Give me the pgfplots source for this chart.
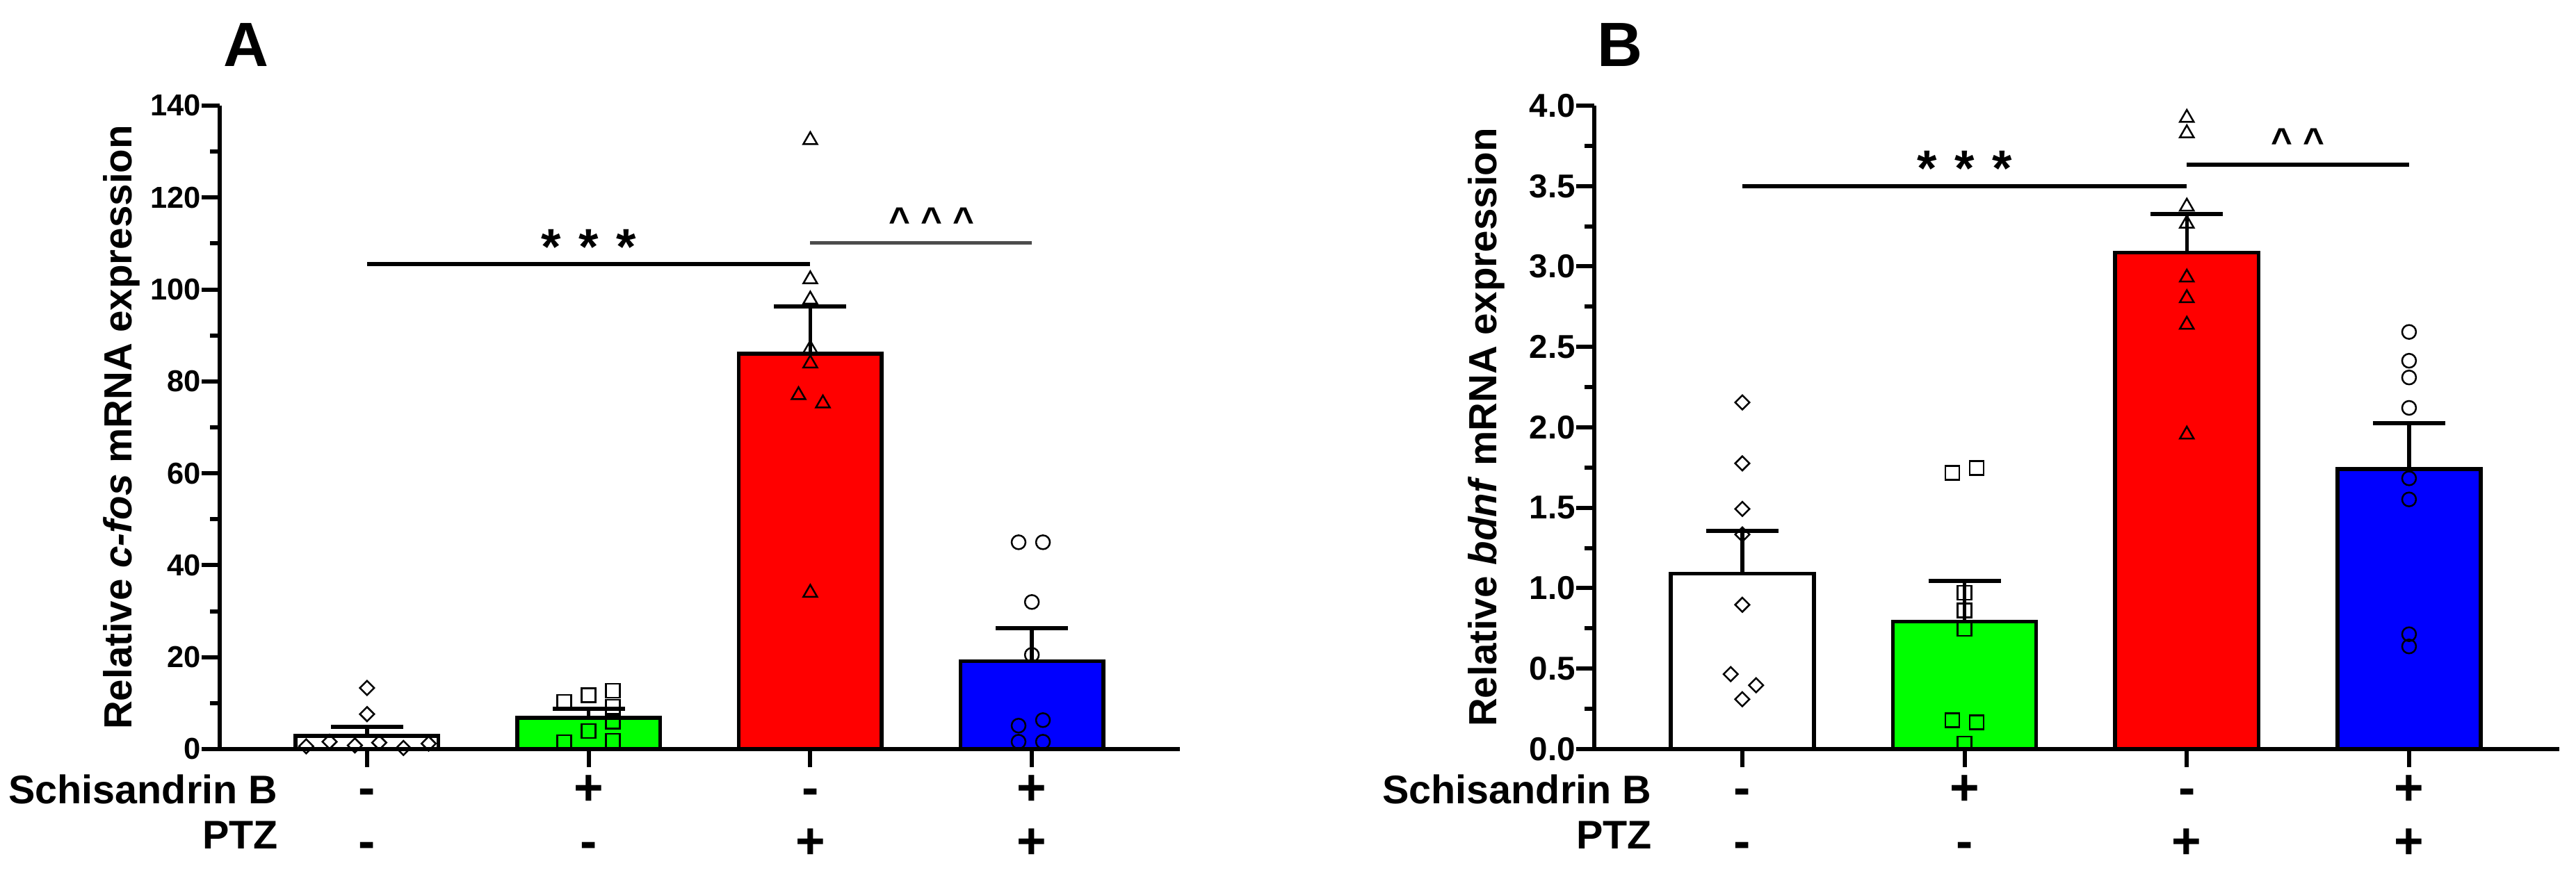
\documentclass[border=0pt]{standalone}
\usepackage{fontspec}
\setmainfont{Liberation Sans}
\usepackage{pgfplots}
\pgfplotsset{compat=1.18}

\definecolor{barwhite}{RGB}{255,255,255}
\definecolor{bargreen}{RGB}{0,255,0}
\definecolor{barred}{RGB}{255,0,0}
\definecolor{barblue}{RGB}{0,0,255}

\pgfplotsset{
  panel/.style={
    anchor=south west, scale only axis, height=185.2pt,
    ymin=0, clip=false,
    axis x line*=bottom, axis y line*=left,
    axis line style={line width=1.2pt, black},
    xtick={0,1,2,3}, xticklabels={},
    tick align=outside, major tick length=5.2pt, minor tick length=2.8pt,
    every tick/.style={black, line width=1.2pt},
    every minor tick/.style={black, line width=1.2pt},
    /pgf/number format/assume math mode=true,
    yticklabel style={inner sep=0pt, anchor=east},
    ylabel style={anchor=center, font=\fontsize{11.3}{13}\selectfont\bfseries},
  },
  meanbar/.style={ybar, bar width=0.645, bar shift=0pt, draw=black, line width=1.1pt,
    error bars/y dir=plus, error bars/y explicit,
    error bars/error bar style={line width=1.1pt, black},
    error bars/error mark options={rotate=90, mark size=10.4pt, line width=1.2pt, black}},
  pts/.style={only marks, mark options={draw=black, fill=none, line width=0.5pt}},
  dia/.style={pts, mark=square, mark size=1.45pt, mark options={rotate=45, draw=black, fill=none, line width=0.5pt}},
  sq/.style={pts, mark=square, mark size=2pt},
  tri/.style={pts, mark=triangle, mark size=2.3pt},
  circ/.style={pts, mark=o, mark size=2pt},
}
\tikzset{
  sig/.style={font=\fontsize{14.6}{16}\selectfont\bfseries, anchor=base, inner sep=0pt},
  hat/.style={font=\fontsize{10.6}{12}\selectfont\bfseries, anchor=base, inner sep=0pt},
  pm/.style={font=\fontsize{14.6}{16}\selectfont\bfseries, anchor=base, inner sep=0pt},
  rowlab/.style={anchor=base east, inner sep=0pt, font=\fontsize{11.5}{13}\selectfont\bfseries},
  panlab/.style={anchor=base west, inner sep=0pt, font=\fontsize{18}{20}\selectfont\bfseries},
}

\newcommand{\treatmentrows}{%
  \node[pm] at (axis cs:0,0) [yshift=-16.2pt] {-};
  \node[pm] at (axis cs:1,0) [yshift=-16.2pt] {+};
  \node[pm] at (axis cs:2,0) [yshift=-16.2pt] {-};
  \node[pm] at (axis cs:3,0) [yshift=-16.2pt] {+};
  \node[pm] at (axis cs:0,0) [yshift=-31.6pt] {-};
  \node[pm] at (axis cs:1,0) [yshift=-31.6pt] {-};
  \node[pm] at (axis cs:2,0) [yshift=-31.6pt] {+};
  \node[pm] at (axis cs:3,0) [yshift=-31.6pt] {+};
}

\begin{document}
\begin{tikzpicture}
\useasboundingbox (0,0) rectangle (741pt,250.4pt);

% ---------------- Panel A: c-fos ----------------
\begin{axis}[panel,
  at={(63.2pt,34.8pt)}, width=276.2pt,
  xmin=-0.665, xmax=3.668, ymax=140,
  ytick={0,20,...,140}, minor ytick={10,30,...,130},
  yticklabel style={font=\fontsize{8.7}{10}\selectfont\bfseries},
  ylabel={Relative \textit{c-fos} mRNA expression},
  ylabel style={at={(axis description cs:-0.102,0.5)}},
]
\addplot[meanbar, fill=barwhite] coordinates {(0,2.9) +- (0,1.9)};
\addplot[meanbar, fill=bargreen] coordinates {(1,6.8) +- (0,1.9)};
\addplot[meanbar, fill=barred]   coordinates {(2,86.0) +- (0,10.3)};
\addplot[meanbar, fill=barblue]  coordinates {(3,19.1) +- (0,7.2)};

\addplot[dia] coordinates {(0,13.3) (0,7.6) (-0.275,0.6) (-0.169,1.6) (-0.055,0.8) (0.055,1.4) (0.164,0.25) (0.278,1.2)};
\addplot[sq] coordinates {(0.89,10.3) (1,11.7) (1.11,12.7) (1.11,9.2) (1.11,6.0) (1,3.9) (0.89,1.5) (1.11,1.8)};
\addplot[tri] coordinates {(2,132.5) (2,102.2) (2,97.8) (2,87.1) (2,83.9) (1.947,77.0) (2.057,75.2) (2,34.0)};
\addplot[circ] coordinates {(2.94,45) (3.05,45) (3,32) (3,20.5) (3.05,6.3) (2.94,5.1) (2.94,1.6) (3.05,1.6)};

% significance brackets
\addplot[no marks, line width=1.2pt, black] coordinates {(0,105.5) (2,105.5)};
\addplot[no marks, line width=1pt, black!70] coordinates {(2,110.1) (3,110.1)};
\node[sig] at (axis cs:1,105.5) {*\hspace{0.35em}*\hspace{0.35em}*};
\node[hat] at (axis cs:2.548,112.2) {\textasciicircum{} \textasciicircum{} \textasciicircum{}};

\treatmentrows
\end{axis}

% ---------------- Panel B: bdnf ----------------
\begin{axis}[panel,
  at={(458.6pt,34.8pt)}, width=277.6pt,
  xmin=-0.666, xmax=3.676, ymax=4,
  ytick={0,0.5,...,4.0}, minor ytick={0.25,0.75,...,3.75},
  yticklabel style={font=\fontsize{9.5}{11}\selectfont\bfseries,
    /pgf/number format/.cd, fixed, fixed zerofill, precision=1},
  ylabel={Relative \textit{bdnf} mRNA expression},
  ylabel style={at={(axis description cs:-0.1117,0.5)}},
]
\addplot[meanbar, fill=barwhite] coordinates {(0,1.090) +- (0,0.265)};
\addplot[meanbar, fill=bargreen] coordinates {(1,0.793) +- (0,0.252)};
\addplot[meanbar, fill=barred]   coordinates {(2,3.086) +- (0,0.242)};
\addplot[meanbar, fill=barblue]  coordinates {(3,1.741) +- (0,0.283)};

\addplot[dia] coordinates {(0,2.155) (0,1.776) (0,1.493) (0,1.334) (0,0.897) (-0.052,0.466) (0.062,0.397) (0,0.31)};
\addplot[sq] coordinates {(0.945,1.717) (1.055,1.748) (1,0.972) (1,0.862) (1,0.748) (0.945,0.179) (1.055,0.166) (1,0.034)};
\addplot[tri] coordinates {(2,3.924) (2,3.828) (2,3.372) (2,3.266) (2,2.931) (2,2.803) (2,2.638) (2,1.955)};
\addplot[circ] coordinates {(3,2.593) (3,2.414) (3,2.31) (3,2.121) (3,1.683) (3,1.552) (3,0.714) (3,0.638)};

% significance brackets
\addplot[no marks, line width=1.2pt, black] coordinates {(0,3.5) (2,3.5)};
\addplot[no marks, line width=1.2pt, black] coordinates {(2,3.633) (3,3.633)};
\node[sig] at (axis cs:1,3.5) {*\hspace{0.35em}*\hspace{0.35em}*};
\node[hat] at (axis cs:2.5,3.698) {\textasciicircum{} \textasciicircum{}};

\treatmentrows
\end{axis}

% panel letters
\node[panlab] at (64pt,231.2pt) {A};
\node[panlab] at (459.2pt,231.2pt) {B};

% treatment row labels
\node[rowlab] at (80pt,19pt) {Schisandrin B};
\node[rowlab] at (80.2pt,6pt) {PTZ};
\node[rowlab] at (475.2pt,19pt) {Schisandrin B};
\node[rowlab] at (475.4pt,6pt) {PTZ};
\end{tikzpicture}
\end{document}
